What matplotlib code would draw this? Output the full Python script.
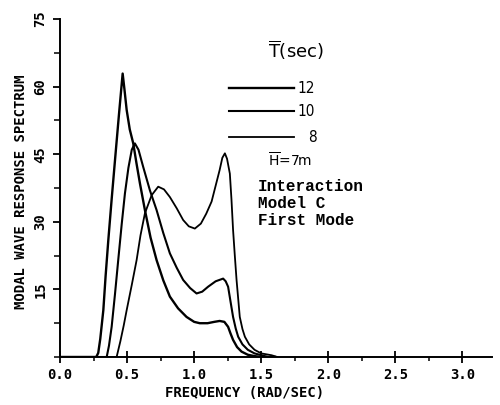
import matplotlib
matplotlib.use("Agg")
import matplotlib.pyplot as plt
from matplotlib.ticker import MultipleLocator

# modal wave response spectrum, first mode, model C, H = 7 m
freq_12 = [0.0, 0.27, 0.285, 0.30, 0.323, 0.34, 0.36, 0.385, 0.41, 0.44, 0.467, 0.48, 0.497, 0.52,
           0.546, 0.57, 0.596, 0.633, 0.675, 0.72, 0.77, 0.819, 0.88, 0.943, 1.00, 1.042, 1.10,
           1.15, 1.19, 1.225, 1.253, 1.27, 1.29, 1.32, 1.353, 1.40, 1.45, 1.50, 1.60]
resp_12 = [0, 0, 0.9, 4, 10.4, 18, 25.9, 35, 43.7, 54, 62.9, 59.5, 54.8, 50.5,
           47.4, 43, 38.5, 32.6, 26.5, 21.5, 17, 13.4, 10.8, 8.9, 7.8, 7.5, 7.5,
           7.8, 8.0, 7.8, 6.7, 5.3, 3.8, 2.2, 1.2, 0.5, 0.2, 0, 0]

freq_10 = [0.0, 0.348, 0.365, 0.385, 0.41, 0.434, 0.46, 0.484, 0.51, 0.535, 0.558, 0.585, 0.62,
           0.67, 0.72, 0.77, 0.819, 0.87, 0.918, 0.97, 1.018, 1.06, 1.104, 1.16, 1.216, 1.235,
           1.253, 1.27, 1.29, 1.31, 1.328, 1.36, 1.40, 1.45, 1.50, 1.55, 1.60]
resp_10 = [0, 0, 2.5, 6.7, 14, 21.5, 29.5, 36.3, 42, 46, 47.4, 46, 42.2,
           37, 32.6, 27.5, 23, 19.8, 17.1, 15.3, 14.1, 14.5, 15.6, 16.8, 17.4, 16.8,
           15.6, 12.5, 8.9, 6.3, 4.5, 2.8, 1.6, 0.8, 0.4, 0, 0]

freq_8 = [0.0, 0.422, 0.45, 0.475, 0.497, 0.535, 0.571, 0.60, 0.633, 0.683, 0.732, 0.775, 0.819,
          0.87, 0.918, 0.96, 1.005, 1.05, 1.09, 1.13, 1.16, 1.19, 1.21, 1.229, 1.245, 1.266,
          1.278, 1.29, 1.303, 1.316, 1.34, 1.36, 1.378, 1.41, 1.45, 1.50, 1.576, 1.62]
resp_8 = [0, 0, 3.5, 7, 10.4, 16, 21.5, 27, 31.9, 35.9, 37.8, 37.2, 35.5,
          33, 30.4, 29, 28.5, 29.6, 31.8, 34.5, 38, 41.5, 44.2, 45.2, 44, 40.7,
          35, 28.2, 22.5, 17.1, 8.9, 6.2, 4.5, 2.8, 1.6, 0.8, 0.4, 0]

periods = ['12', '10', '8']
xticks = [0.0, 0.5, 1.0, 1.5, 2.0, 2.5, 3.0]
yticks = [15, 30, 45, 60, 75]

mono = 'DejaVu Sans Mono'

fig = plt.figure(figsize=(5, 4.05), dpi=100)
ax = fig.add_axes([0.12, 0.1185, 0.864, 0.8345])

widths = [1.7, 1.5, 1.3]
for (f, r), lw in zip([(freq_12, resp_12), (freq_10, resp_10), (freq_8, resp_8)], widths):
    ax.plot(f, r, color='black', lw=lw, solid_joinstyle='round')

ax.set_xlim(0, 3.22)
ax.set_ylim(0, 75)
ax.spines['top'].set_visible(False)
ax.spines['right'].set_visible(False)
ax.spines['left'].set_linewidth(1.4)
ax.spines['bottom'].set_linewidth(1.4)

ax.set_xticks(xticks)
ax.set_xticklabels(['%.1f' % v for v in xticks], fontfamily=mono, fontweight='bold', fontsize=10)
ax.xaxis.set_minor_locator(MultipleLocator(0.25))
ax.set_yticks(yticks)
ax.set_yticklabels([str(v) for v in yticks], fontfamily=mono, fontweight='bold', fontsize=10,
                   rotation=90, va='center')
ax.yaxis.set_minor_locator(MultipleLocator(7.5))
ax.tick_params(axis='x', which='major', direction='inout', length=8, width=1.3, pad=4)
ax.tick_params(axis='x', which='minor', direction='out', length=3, width=1.1)
ax.tick_params(axis='y', which='major', direction='out', length=5, width=1.3, pad=4)
ax.tick_params(axis='y', which='minor', direction='out', length=4, width=1.1)

ax.set_xlabel('FREQUENCY (RAD/SEC)', fontfamily=mono, fontweight='bold', fontsize=10, labelpad=2)
ax.xaxis.set_label_coords(0.428, -0.085)
ax.set_ylabel('MODAL WAVE RESPONSE SPECTRUM', fontfamily=mono, fontweight='bold', fontsize=10,
              labelpad=6)
ax.yaxis.set_label_coords(-0.075, 0.49)

# legend drawn by hand, in axes pixels
def px(x, y):
    return ((x - 60) / 432.0, (357 - y) / 338.0)

ax.text(*px(268, 50), r'$\overline{\mathrm{T}}$(sec)', transform=ax.transAxes, fontsize=13,
        va='center', ha='left')
rows = [88, 111, 137]
for lab, y, lw in zip(periods, rows, widths):
    x0, yy = px(229, y)
    x1, _ = px(294, y)
    ax.plot([x0, x1], [yy, yy], color='black', lw=lw, transform=ax.transAxes)
    ax.text(*px(297 if lab != '8' else 308, y), lab, transform=ax.transAxes, fontsize=11,
            va='center', ha='left', fontstretch='condensed')
ax.text(*px(268, 160), r'$\overline{\mathrm{H}}$=7m', transform=ax.transAxes, fontsize=10,
        va='center', ha='left')
for txt, y in zip(['Interaction', 'Model C', 'First Mode'], [186, 203, 220]):
    ax.text(*px(258, y), txt, transform=ax.transAxes, fontsize=11.5, fontfamily='Liberation Mono',
            fontweight='bold', va='center', ha='left')

fig.savefig('out.png', dpi=100)
